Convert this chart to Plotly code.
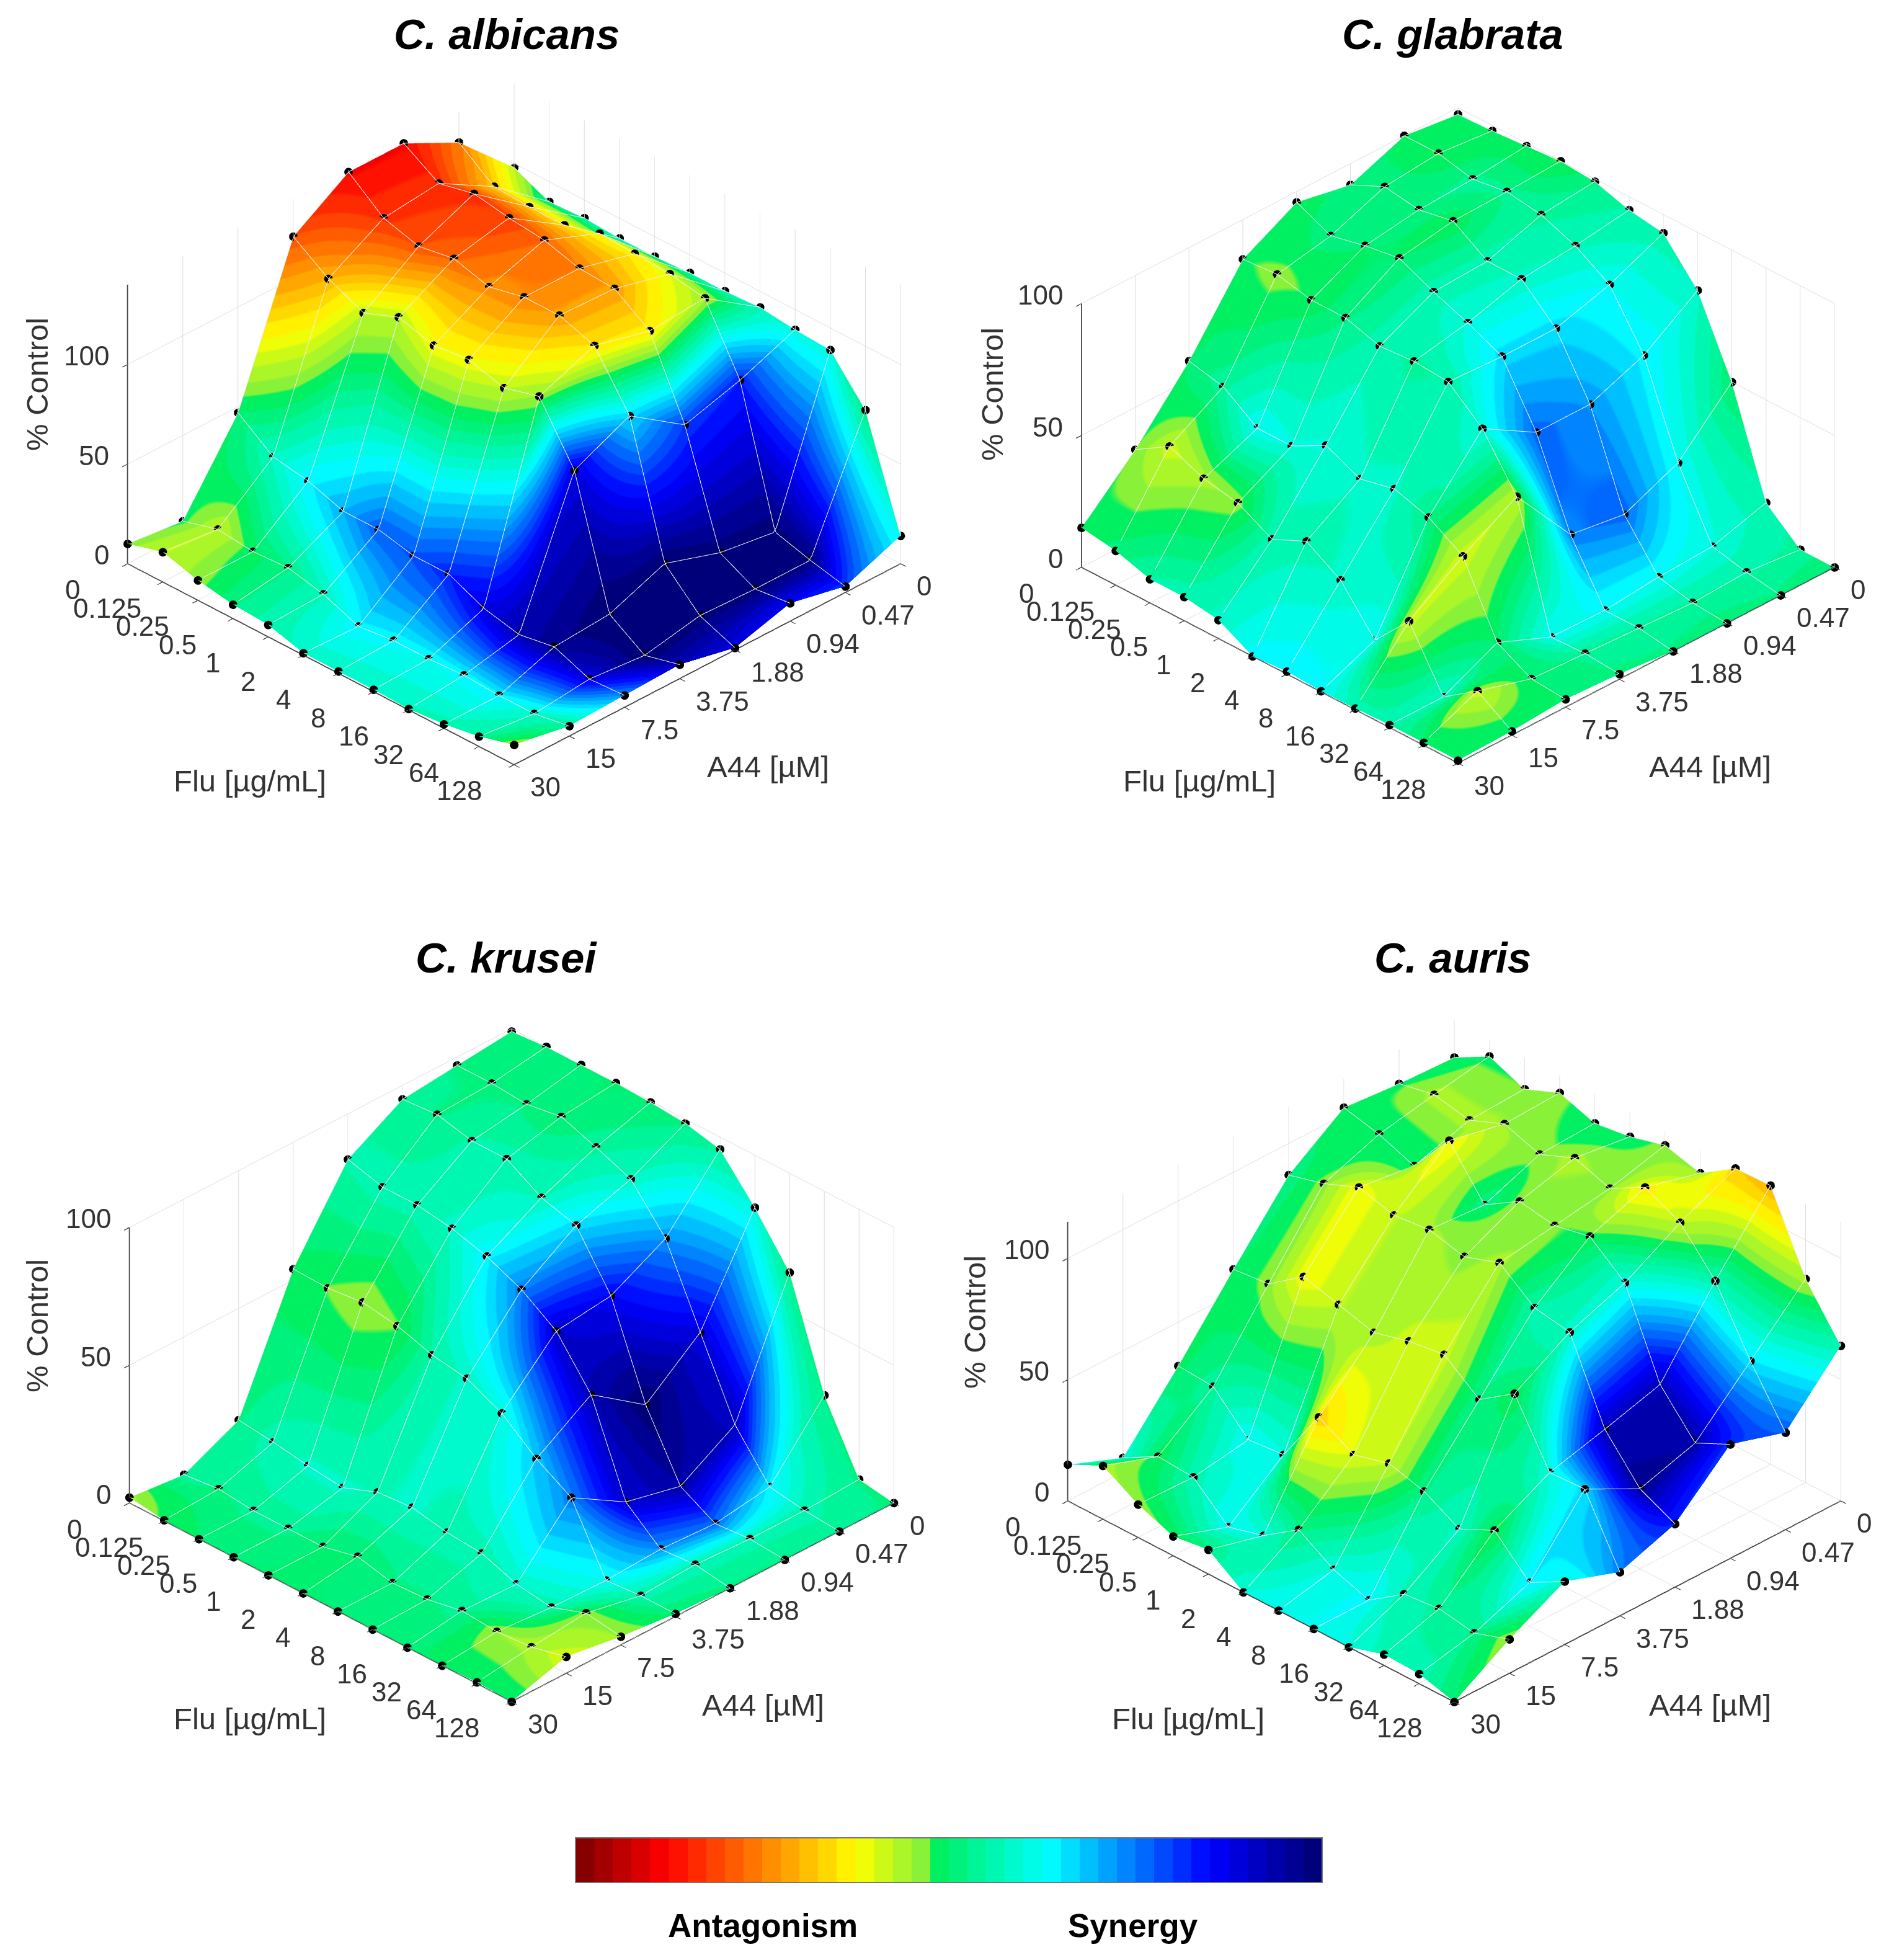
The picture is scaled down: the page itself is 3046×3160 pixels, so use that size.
import numpy as np
import plotly.graph_objects as go

W, H = 3046, 3160
FLU_LABELS = ["0", "0.125", "0.25", "0.5", "1", "2", "4", "8", "16", "32", "64", "128"]
A44_LABELS = ["0", "0.47", "0.94", "1.88", "3.75", "7.5", "15", "30"]

# rows: A44 0 -> 30, columns: Flu 0 -> 128
ALB_Z = [
 [98,90,91,90,90,91,91,92,90,89,68,14],
 [125,112,111,111,116,115,114,111,79,12,7,3],
 [139,128,132,129,127,122,121,109,71,16,7,9],
 [139,125,120,123,118,122,122,116,90,25,8,1],
 [121,109,101,108,103,105,100,105,77,14,2.5,7],
 [47,34,31,25,25,21,21,13,9,12,5,6],
 [7,12,10,11,7,0,2,2,3,2,2,5],
 [10,15,10,7,6,1,1,1,0.5,2,5,10],
]
ALB_C = [
 [42,53,55,57,57,57,58,58,60,60,52,62],
 [24,32,32,35,38,36,40,44,82,99,98,80],
 [12,16,17,18,22,25,28,36,80,99,100,85],
 [12,17,20,22,26,25,28,35,66,100,99,88],
 [20,30,42,42,38,38,42,45,88,100,100,92],
 [50,58,64,70,77,78,82,88,93,96,88,72],
 [48,42,49,52,57,64,63,62,63,64,58,54],
 [46,42,46,52,56,58,58,58,57,56,54,44],
]
GLA_Z = [
 [97.5,98,99,100,99,95,93,78,50,11,0,0],
 [100,100,97,99,97,92,84,64,30,5,2,0],
 [92,98,96,98.5,90,90,78,56,21,4,1,0],
 [96,90,93,95,89,84,78,56,24,2,2,0],
 [85,86,83,83,79,80,79,68,49,2.5,3,2],
 [57,54,45,45,52,46,49,45,37,11,4,3],
 [34,42,36.5,34,27,33,25,9,23,1,10,1.5],
 [15,13,9,9,7,0,1,0.3,0.5,1,1,1],
]
GLA_C = [
 [50,50,48,47,52,55,56,58,50,56,54,50],
 [49,47,53,53,54,57,62,64,62,60,55,52],
 [52,52,52,48,56,58,66,72,76,62,54,51],
 [48,52,50,50,56,60,66,76,74,62,54,52],
 [48,46,48,52,56,54,55,60,43,62,53,52],
 [50,54,62,60,60,58,58,52,41,50,50,50],
 [47,41,44,46,56,56,58,62,41,58,41,50],
 [48,51,55,56,58,63,64,62,56,55,50,50],
]
KRU_Z = [
 [99,100,100,100,99.5,98.5,95.6,81,64,26,2,0],
 [97,97,96,98,93.5,88.5,73.5,46,19,3,1,0],
 [95,96,93,93,85.5,82,63,30,7,0,1,0],
 [83.5,80,80,78,74.5,69,60.5,44,11.6,1,2,0],
 [54,53.6,55,53,49,47,41,31,23.5,0,1,1],
 [9.5,8,6,4.6,9.5,10.5,8,7,2.4,0.5,5,3],
 [0,1.3,0,0,0,3,0,0.6,3,2,3,6],
 [2,0.3,0,0,0,0,0,0,0,0,0.5,0],
]
KRU_C = [
 [52,52,50,50,50,52,54,60,52,52,52,52],
 [52,52,52,50,54,58,72,88,92,64,56,53],
 [54,52,55,56,57,66,85,100,94,76,56,52],
 [55,56,56,58,64,74,90,92,90,72,56,52],
 [49,47,45,47,55,58,60,68,74,62,56,50],
 [52,56,58,58,57,58,56,56,58,56,46,45],
 [54,52,53,53,50,50,52,52,53,45,44,40],
 [44,48,50,50,50,50,50,50,50,50,50,50],
]
AUR_Z = [
 [100,108,102,108,103,105,109,105,114.5,115,84,64],
 [101,104,101,107,102,108,103,111,104,87.5,62,40],
 [103,99.5,94,112,93,102,99.5,102.6,91,56.6,40,47],
 [87,91,97,93,94.6,91,96,85,82.5,50,33,26],
 [60,61.5,72,68,64,68,70,59,69,44,44.7,18],
 [32,31,16.6,18,41,33,37,33,25,32,18,26],
 [6,14,13,0,4,14,5,0,10,11.5,9,14],
 [15,22,13.6,8,10,0,0,0,0,4.5,4,0],
]
AUR_C = [
 [50,48,47,46,50,50,46,45,33,30,44,56],
 [48,44,44,45,46,44,46,36,42,56,65,77],
 [48,50,50,37,52,46,47,48,60,92,94,80],
 [52,46,38,42,44,46,44,55,58,92,96,82],
 [50,46,38,42,44,41,41,52,48,60,66,74],
 [49,54,62,60,33,40,42,52,58,47,65,58],
 [60,48,56,62,60,52,60,63,56,54,52,45],
 [60,44,46,48,52,60,62,62,60,56,56,50],
]

TITLES = ["C. albicans", "C. glabrata", "C. krusei", "C. auris"]
ZDATA = [ALB_Z, GLA_Z, KRU_Z, AUR_Z]
CDATA = [ALB_C, GLA_C, KRU_C, AUR_C]
ZMAX = [140, 100, 100, 115]
ZTICKS = [[0, 50, 100], [0, 50, 100], [0, 50, 100], [0, 50, 100]]

# centre of each scene on the page, in pixels
CENTERS = [(821, 676), (2343, 694), (817, 2193), (2337, 2187)]
DOM_W, DOM_H = 1380, 1300
EYE = np.array([0.604, 0.604, 0.52]) * 1.5
BOXES = [(1.356, 1.356, 0.81), (1.321, 1.321, 0.766), (1.341, 1.341, 0.80), (1.356, 1.356, 0.81)]

# colour ramp of the bar: position -> colour (antagonism on the left, synergy on the right)
RAMP = [(0, (120, 0, 0)), (0.12, (255, 0, 0)), (0.27, (255, 150, 0)), (0.376, (255, 255, 0)),
        (0.483, (110, 240, 70)), (0.484, (0, 240, 95)), (0.634, (0, 255, 255)),
        (0.85, (0, 0, 255)), (1, (0, 0, 110))]
BANDS = 40

def ramp_color(t):
    ps = [p for p, _ in RAMP]
    cs = np.array([c for _, c in RAMP], float)
    return "rgb(%d,%d,%d)" % tuple(np.interp(t, ps, cs[:, k]) for k in range(3))

scale = []
for b in range(BANDS):
    t0, t1 = b / BANDS, (b + 1) / BANDS
    c = ramp_color((t0 + t1) / 2)
    scale += [[t0, c], [t1, c]]

FONT = "Liberation Sans"
TICK_FONT = dict(family=FONT, size=44, color="#333333")
fig = go.Figure()
xs = list(range(len(A44_LABELS)))
ys = list(range(len(FLU_LABELS)))

def axis(vals, rng):
    return dict(range=rng, tickmode="array", tickvals=vals, showbackground=False,
                showgrid=True, gridcolor="#dedede", gridwidth=2, zeroline=False, showline=True,
                linecolor="#444444", linewidth=4, ticks="outside", ticklen=12, tickcolor="#444444",
                tickwidth=3, showspikes=False, title=dict(text=""), showticklabels=False)

layout = {}
for n in range(4):
    sid = "scene" if n == 0 else f"scene{n+1}"
    Z = np.array(ZDATA[n], float).T
    C = np.array(CDATA[n], float).T
    fig.add_trace(go.Surface(
        x=xs, y=ys, z=Z, surfacecolor=C, cmin=0, cmax=100, colorscale=scale, scene=sid,
        showscale=(n == 0), hoverinfo="skip",
        lighting=dict(ambient=1, diffuse=0, specular=0, fresnel=0, roughness=1),
        contours=dict(
            x=dict(show=True, start=0, end=7, size=1, color="#f0f0f0", width=5),
            y=dict(show=True, start=0, end=11, size=1, color="#f0f0f0", width=5),
        ),
        colorbar=dict(orientation="h", lenmode="pixels", len=1204, thicknessmode="pixels",
                      thickness=72, x=1522 / W, xanchor="center", y=1 - 2992 / H, xpad=0, ypad=0,
                      yanchor="middle", showticklabels=False, ticks="", outlinecolor="#777777",
                      outlinewidth=2, title=dict(text="")),
    ))
    gx, gy = np.meshgrid(xs, ys)
    fig.add_trace(go.Scatter3d(
        x=gx.ravel(), y=gy.ravel(), z=Z.ravel(), mode="markers", scene=sid, hoverinfo="skip",
        marker=dict(size=8, color="black"), showlegend=False))
    tick_notes = []
    for i, lab in enumerate(FLU_LABELS):      # along the edge A44 = 30, z = 0
        tick_notes.append(dict(x=xs[-1], y=i, z=0, text=lab, showarrow=False, xanchor="center",
                               yanchor="middle", xshift=-89, yshift=-42, font=TICK_FONT))
    for j, lab in enumerate(A44_LABELS):      # along the edge Flu = 128, z = 0
        tick_notes.append(dict(x=j, y=ys[-1], z=0, text=lab, showarrow=False, xanchor="left",
                               yanchor="middle", xshift=24, yshift=-36, font=TICK_FONT))
    for v in ZTICKS[n]:
        tick_notes.append(dict(x=xs[-1], y=0, z=v, text=str(v), showarrow=False, xanchor="right",
                               yanchor="middle", xshift=-28, yshift=14, font=TICK_FONT))
    cx, cy = CENTERS[n]
    bx = BOXES[n]
    layout[sid] = dict(
        domain=dict(x=[(cx - DOM_W / 2) / W, (cx + DOM_W / 2) / W],
                    y=[1 - (cy + DOM_H / 2) / H, 1 - (cy - DOM_H / 2) / H]),
        camera=dict(projection=dict(type="orthographic"),
                    eye=dict(x=EYE[0], y=EYE[1], z=EYE[2]),
                    up=dict(x=0, y=0, z=1), center=dict(x=0, y=0, z=0)),
        aspectmode="manual", aspectratio=dict(x=bx[0], y=bx[1], z=bx[2]),
        xaxis=axis(xs, [0, 7]),
        yaxis=axis(ys, [0, 11]),
        zaxis=axis(ZTICKS[n], [0, ZMAX[n]]),
        annotations=tick_notes,
    )

def note(px, py, text, size, bold=False, italic=False, angle=0, color="#333333"):
    if bold:
        text = f"<b>{text}</b>"
    if italic:
        text = f"<i>{text}</i>"
    return dict(x=px / W, y=1 - py / H, xref="paper", yref="paper", text=text, showarrow=False,
                textangle=angle, xanchor="center", yanchor="middle",
                font=dict(family=FONT, size=size, color=color))

ann = []
for t, p in zip(TITLES, [(809, 48), (2334, 48), (809, 1537), (2334, 1537)]):
    ann.append(note(p[0], p[1], t, 69, bold=True, italic=True, color="black"))
for p in [(52, 612), (1592, 628), (52, 2130), (1564, 2124)]:
    ann.append(note(p[0], p[1], "% Control", 49, angle=-90))
for p in [(395, 1251), (1926, 1251), (395, 2763), (1908, 2763)]:
    ann.append(note(p[0], p[1], "Flu [µg/mL]", 49))
for p in [(1230, 1228), (2749, 1228), (1222, 2741), (2749, 2741)]:
    ann.append(note(p[0], p[1], "A44 [µM]", 49))
ann.append(note(1222, 3096, "Antagonism", 53, bold=True, color="black"))
ann.append(note(1819, 3096, "Synergy", 53, bold=True, color="black"))

fig.update_layout(width=W, height=H, margin=dict(l=0, r=0, t=0, b=0, autoexpand=False),
                  paper_bgcolor="white", showlegend=False, annotations=ann, **layout)
fig.write_html("out.html", config={"plotGlPixelRatio": 1})
